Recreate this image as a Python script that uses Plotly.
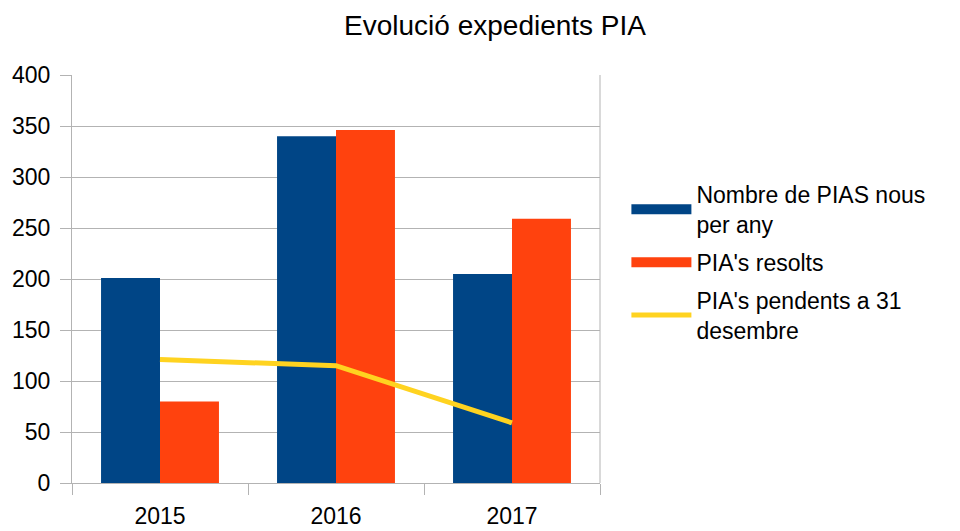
import plotly.graph_objects as go

years = ["2015", "2016", "2017"]
nous = [201, 340, 205]
resolts = [80, 346, 259]
pendents = [121, 115, 59]

names = ["Nombre de PIAS nous<br>per any", "PIA's resolts", "PIA's pendents a 31<br>desembre"]
colors = ["#004586", "#ff420e", "#ffd320"]

font = "Liberation Sans, Arial, sans-serif"
grid = "#b3b3b3"

fig = go.Figure()
# legend entries for the bar series drawn as wide rectangles (no data marks)
for i, (nm, col, grp) in enumerate([(names[0], colors[0], "a"), (names[1], colors[1], "b")]):
    fig.add_trace(go.Scatter(x=[None], y=[None], name=nm, legendgroup=grp, legendrank=i + 1,
                             mode="lines", line=dict(color=col, width=14), hoverinfo="skip"))
fig.add_trace(go.Bar(x=years, y=nous, name=names[0], showlegend=False, legendgroup="a",
                     marker=dict(color=colors[0], line=dict(width=0))))
fig.add_trace(go.Bar(x=years, y=resolts, name=names[1], showlegend=False, legendgroup="b",
                     marker=dict(color=colors[1], line=dict(width=0))))
fig.add_trace(go.Scatter(x=years, y=pendents, name=names[2], legendgroup="c", legendrank=3,
                         mode="lines", line=dict(color=colors[2], width=5)))

# page body has an 8px margin, so figure is 952x523 and offsets are reduced by 8
fig.update_layout(
    width=952, height=523,
    paper_bgcolor="white", plot_bgcolor="white",
    margin=dict(l=64, r=360, t=67, b=48, autoexpand=False),
    barmode="group", bargap=0.33, bargroupgap=0,
    font=dict(family=font, size=23, color="#000000"),
    title=dict(text="Evolució expedients PIA", x=0.5116, xanchor="center",
               y=0.967, yanchor="middle", font=dict(size=28, family=font)),
    legend=dict(x=1.05, y=0.76, xanchor="left", yanchor="top",
                font=dict(size=23, family=font), traceorder="grouped", tracegroupgap=5,
                itemwidth=60, bgcolor="rgba(0,0,0,0)"),
    showlegend=True,
)
fig.update_xaxes(type="category", tickson="boundaries", ticks="outside", ticklen=11,
                 tickcolor=grid, showline=True, linecolor=grid,
                 showgrid=False, tickfont=dict(size=23), zeroline=False,
                 ticklabelstandoff=12)
fig.update_yaxes(range=[0, 400], dtick=50, ticks="outside", ticklen=11,
                 tickcolor=grid, showline=True, linecolor=grid,
                 gridcolor=grid, gridwidth=1, zeroline=False,
                 tickfont=dict(size=23), ticklabelstandoff=5)
fig.update_layout(shapes=[dict(type="line", xref="paper", yref="paper", x0=1, x1=1, y0=0, y1=1,
                               line=dict(color=grid, width=1))])

fig.write_html("out.html")
